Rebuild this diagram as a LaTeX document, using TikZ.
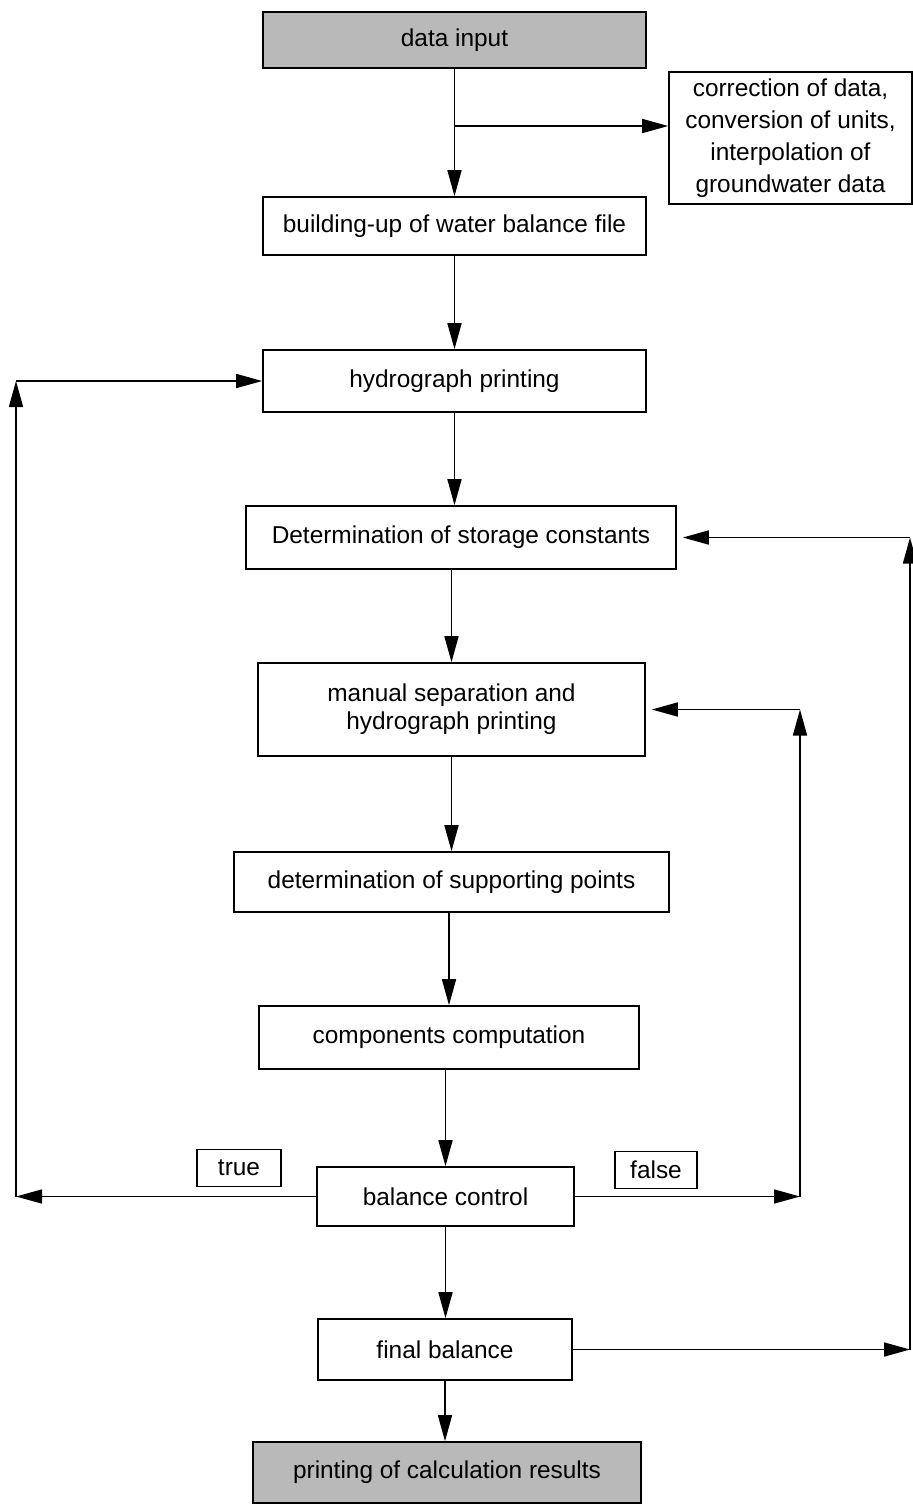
\documentclass[tikz,border=0pt]{standalone}
\usepackage{fontspec}
\setmainfont{Liberation Sans}
\usetikzlibrary{arrows.meta}

\begin{document}
\begin{tikzpicture}[x=0.5pt,y=-0.5pt,->,>={Triangle[length=13pt,width=7pt]},
                    line width=0.8pt]
    \tikzstyle{block}=[draw,rectangle,inner sep=0pt,align=center,
                       font=\fontsize{12.2}{14}\selectfont]
    \tikzstyle{shaded}=[block,fill=gray!55]

    \useasboundingbox (0,0) rectangle (913,1506);

    \node[shaded,minimum width=191.5pt,minimum height=28pt]   (din)   at (454.5,40)    {data input};
    \node[block,minimum width=121.5pt,minimum height=66pt,
          font=\fontsize{12.2}{16}\selectfont]                (corr)  at (790.5,138)   {correction of data,\\conversion of units,\\interpolation of\\groundwater data};
    \node[block,minimum width=191.5pt,minimum height=29pt]    (build) at (454.5,226)   {building-up of water balance file};
    \node[block,minimum width=191.5pt,minimum height=31pt]    (hyd)   at (454.5,381)   {hydrograph printing};
    \node[block,minimum width=215pt,minimum height=31.5pt]    (stor)  at (461,537.5)   {Determination of storage constants};
    \node[block,minimum width=193.5pt,minimum height=46.5pt]  (man)   at (451.5,709.5) {manual separation and\\hydrograph printing};
    \node[block,minimum width=217.5pt,minimum height=30pt]    (sup)   at (451.5,882)   {determination of supporting points};
    \node[block,minimum width=190pt,minimum height=31.5pt]    (comp)  at (449,1037.5)  {components computation};
    \node[block,minimum width=128.5pt,minimum height=29.5pt]  (bal)   at (445.5,1196.5){balance control};
    \node[block,minimum width=127pt,minimum height=30.5pt]    (fin)   at (445,1349.5)  {final balance};
    \node[shaded,minimum width=194pt,minimum height=30.5pt]   (prt)   at (447,1472.5)  {printing of calculation results};
    \node[block,minimum width=42pt,minimum height=18.5pt]     (true)  at (239,1168)    {true};
    \node[block,minimum width=41pt,minimum height=18.5pt]     (false) at (656,1170)    {false};

    % corners of the loops
    \coordinate (br) at (454.5,126);
    \coordinate (tl) at (16,1196.5);
    \coordinate (tu) at (16,381);
    \coordinate (fl) at (800,1196.5);
    \coordinate (fu) at (800,709.5);
    \coordinate (rl) at (910,1349.5);
    \coordinate (ru) at (910,537.5);

    \path (din.south)  edge (din.south |- build.north)
          (br)         edge (br -| corr.west)
          (build.south) edge (build.south |- hyd.north)
          (hyd.south)  edge (hyd.south |- stor.north)
          (man.north |- stor.south) edge (man.north)
          (man.south)  edge (man.south |- sup.north)
          (comp.north |- sup.south) edge (comp.north)
          (bal.north |- comp.south) edge (bal.north)
          (bal.south)  edge (bal.south |- fin.north)
          (fin.south)  edge (fin.south |- prt.north);

    \path (bal.west) edge (tl)
          (tl)       edge (tu)
          (tu)       edge (hyd.west)
          (bal.east) edge (fl)
          (fl)       edge (fu)
          (fu)       edge[shorten >=3pt] (man.east)
          (fin.east) edge (rl)
          (rl)       edge (ru)
          (ru)       edge[shorten >=3pt] (stor.east);
\end{tikzpicture}
\end{document}
